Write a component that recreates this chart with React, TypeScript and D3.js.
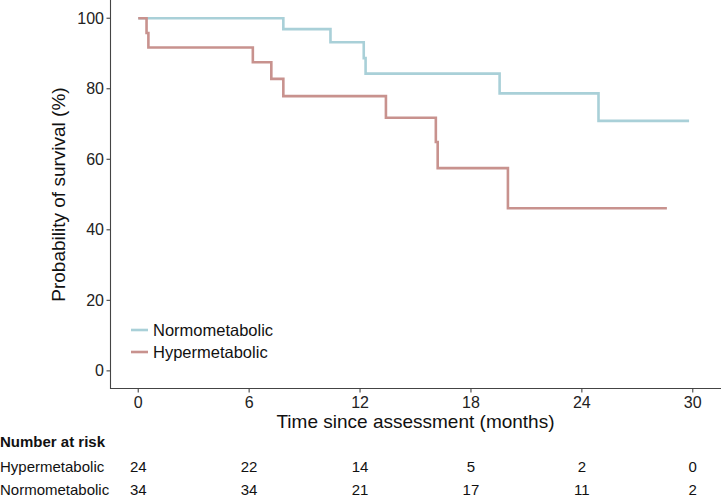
import React from "react";
import * as d3 from "d3";

const hyperTimes = [0, 0.45, 0.55, 6.2, 7.2, 7.85, 13.4, 16.1, 16.2, 20.0];
const hyperSurv = [100, 95.8, 91.7, 87.5, 82.8, 77.9, 71.8, 64.9, 57.5, 46.1];
const hyperEnd = 28.6;
const normoTimes = [0, 7.85, 10.4, 12.2, 12.3, 19.55, 24.9];
const normoSurv = [100, 96.9, 93.2, 88.7, 84.3, 78.7, 70.9];
const normoEnd = 29.8;

const xTicks = [0, 6, 12, 18, 24, 30];
const yTicks = [0, 20, 40, 60, 80, 100];
const riskGroups = ["Hypermetabolic", "Normometabolic"];
const hyperRisk = [24, 22, 14, 5, 2, 0];
const normoRisk = [34, 34, 21, 17, 11, 2];

const W = 723;
const H = 497;
const FONT = "'Liberation Sans', Arial, Helvetica, sans-serif";
const NORMO_COLOR = "#a9d0d8";
const HYPER_COLOR = "#c8928e";
const AXIS_COLOR = "#444";

export default function App() {
  const x = d3.scaleLinear().domain([-1.5, 31.5]).range([110.5, 720.5]);
  const y = d3.scaleLinear().domain([-5, 105]).range([388.5, 0.6]);

  const stepLine = d3
    .line<[number, number]>()
    .x((d) => x(d[0]))
    .y((d) => y(d[1]))
    .curve(d3.curveStepAfter);

  const mk = (t: number[], s: number[], end: number): [number, number][] => {
    const pts: [number, number][] = t.map((tt, i) => [tt, s[i]]);
    pts.push([end, s[s.length - 1]]);
    return pts;
  };

  const series = [
    { name: "Normometabolic", color: NORMO_COLOR, pts: mk(normoTimes, normoSurv, normoEnd) },
    { name: "Hypermetabolic", color: HYPER_COLOR, pts: mk(hyperTimes, hyperSurv, hyperEnd) },
  ];

  const riskRows = [hyperRisk, normoRisk];
  const rowY = [467, 489.5];

  return (
    <svg
      width={W}
      height={H}
      style={{ position: "absolute", left: 0, top: 0, background: "#fff" }}
      fontFamily={FONT}
    >
      {series.map((s) => (
        <path
          key={s.name}
          d={stepLine(s.pts) || ""}
          fill="none"
          stroke={s.color}
          strokeWidth={2.6}
        />
      ))}

      <line x1={110.5} x2={110.5} y1={0} y2={389} stroke={AXIS_COLOR} strokeWidth={1.1} />
      <line x1={110} x2={721} y1={388.5} y2={388.5} stroke={AXIS_COLOR} strokeWidth={1.1} />

      {yTicks.map((t) => (
        <g key={"y" + t}>
          <line x1={106.5} x2={110.5} y1={y(t)} y2={y(t)} stroke={AXIS_COLOR} strokeWidth={1.1} />
          <text x={104} y={y(t) + 5.6} textAnchor="end" fontSize={16} fill="#222">
            {t}
          </text>
        </g>
      ))}

      {xTicks.map((t) => (
        <g key={"x" + t}>
          <line x1={x(t)} x2={x(t)} y1={388.5} y2={392.5} stroke={AXIS_COLOR} strokeWidth={1.1} />
          <text x={x(t)} y={408} textAnchor="middle" fontSize={16} fill="#222">
            {t}
          </text>
        </g>
      ))}

      <text x={x(15)} y={428} textAnchor="middle" fontSize={19} fill="#111">
        Time since assessment (months)
      </text>
      <text
        transform={`translate(65, ${y(50)}) rotate(-90)`}
        textAnchor="middle"
        fontSize={19}
        fill="#111"
      >
        Probability of survival (%)
      </text>

      {series.map((s, i) => (
        <g key={"lg" + s.name}>
          <line x1={131} x2={148} y1={330 + i * 22} y2={330 + i * 22} stroke={s.color} strokeWidth={2.6} />
          <text x={153} y={330 + i * 22 + 6} fontSize={16.5} fill="#111">
            {s.name}
          </text>
        </g>
      ))}

      <text x={0} y={447} fontSize={15} fontWeight="bold" fill="#111">
        Number at risk
      </text>
      {riskGroups.map((g, gi) => (
        <g key={"r" + g}>
          <text x={0} y={rowY[gi] + 5.3} fontSize={15} fill="#111">
            {g}
          </text>
          {riskRows[gi].map((v, i) => (
            <text key={i} x={x(xTicks[i])} y={rowY[gi] + 5.3} textAnchor="middle" fontSize={15} fill="#111">
              {v}
            </text>
          ))}
        </g>
      ))}
    </svg>
  );
}
